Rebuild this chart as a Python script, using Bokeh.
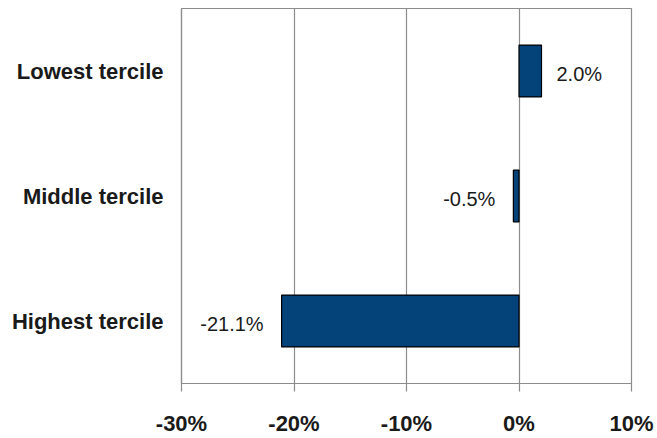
"""Change by income tercile, horizontal bar chart."""
from bokeh.plotting import figure
from bokeh.models import ColumnDataSource, FactorRange, Range1d, FixedTicker, PrintfTickFormatter
from bokeh.core.properties import value
from bokeh.embed import file_html
from bokeh.resources import INLINE

# data
terciles = ["Lowest tercile", "Middle tercile", "Highest tercile"]
changes = [2.0, -0.5, -21.1]
x_ticks = [-30, -20, -10, 0, 10]

GRAY = "#8c8c8c"
BAR = "#03437a"

labels = [f"{v:.1f}%" for v in changes]
source = ColumnDataSource(data={
    "tercile": terciles,
    "change": changes,
    "label": labels,
})
pos = ColumnDataSource(data={k: [v for v, c in zip(source.data[k], changes) if c >= 0]
                             for k in source.data})
neg = ColumnDataSource(data={k: [v for v, c in zip(source.data[k], changes) if c < 0]
                             for k in source.data})

p = figure(
    width=657, height=438,
    y_range=FactorRange(factors=terciles[::-1], range_padding=0),
    x_range=Range1d(x_ticks[0], x_ticks[-1]),
    output_backend="svg", toolbar_location=None,
    min_border_left=181, min_border_right=26, min_border_top=8, min_border_bottom=54,
)

p.hbar(y="tercile", left=0, right="change", height=0.415, source=source,
       fill_color=BAR, line_color="black", line_width=1.2)

p.text(x="change", y="tercile", text="label", source=pos,
       x_offset=15, y_offset=3, text_align="left", text_baseline="middle",
       text_font=value("Liberation Sans"), text_font_size="20px", text_color="#1a1a1a")
p.text(x="change", y="tercile", text="label", source=neg,
       x_offset=-18, y_offset=3, text_align="right", text_baseline="middle",
       text_font=value("Liberation Sans"), text_font_size="20px", text_color="#1a1a1a")

p.outline_line_color = GRAY
p.outline_line_width = 1.2
p.xgrid.grid_line_color = GRAY
p.xgrid.grid_line_width = 1.2
p.xgrid.ticker = FixedTicker(ticks=x_ticks)
p.ygrid.grid_line_color = None
p.background_fill_color = "white"
p.border_fill_color = "white"

p.xaxis.ticker = FixedTicker(ticks=x_ticks)
p.xaxis.formatter = PrintfTickFormatter(format="%d%%")
p.xaxis.axis_line_color = GRAY
p.xaxis.axis_line_width = 1.2
p.xaxis.major_tick_line_color = GRAY
p.xaxis.major_tick_line_width = 1.2
p.xaxis.major_tick_out = 8
p.xaxis.major_tick_in = 0
p.xaxis.minor_tick_line_color = None
p.xaxis.major_label_standoff = 19
p.xaxis.major_label_text_font = "Liberation Sans"
p.xaxis.major_label_text_font_style = "bold"
p.xaxis.major_label_text_font_size = "22px"
p.xaxis.major_label_text_color = "#1a1a1a"

p.yaxis.axis_line_color = GRAY
p.yaxis.axis_line_width = 1.2
p.yaxis.major_tick_line_color = None
p.yaxis.major_tick_out = 0
p.yaxis.major_tick_in = 0
p.yaxis.minor_tick_line_color = None
p.yaxis.major_label_standoff = 18
p.yaxis.major_label_text_font = "Liberation Sans"
p.yaxis.major_label_text_font_style = "bold"
p.yaxis.major_label_text_font_size = "22px"
p.yaxis.major_label_text_color = "#1a1a1a"

open("out.html", "w").write(file_html(p, INLINE))
